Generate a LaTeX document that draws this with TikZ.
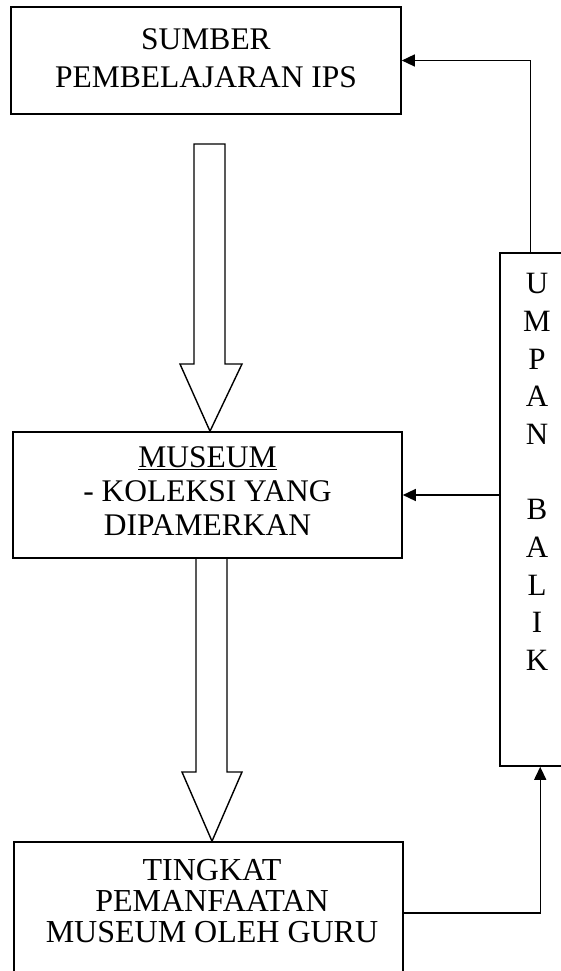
\documentclass[tikz,border=0pt]{standalone}
\usepackage{fontspec}
\setmainfont{Liberation Serif}
\usetikzlibrary{arrows.meta,calc}
\begin{document}
\begin{tikzpicture}[x=1pt,y=-1pt,
  box/.style={draw,line width=1.6pt,rectangle,inner sep=0pt},
  txt/.style={align=center,inner sep=0pt},
  fb/.style={line width=1.4pt,-{Triangle[length=13pt,width=12pt]}},
  hollow/.style={draw,line width=1.4pt,line join=miter}]
\useasboundingbox (0,0) rectangle (561,971);
\clip (0,0) rectangle (561,971);

% boxes
\node[box,minimum width=390pt,minimum height=107pt] (sumber) at (206,60.5) {};
\node[txt,font=\fontsize{31.5}{38}\selectfont] (sumbertxt) at (206,58) {SUMBER\\PEMBELAJARAN IPS};

\node[box,minimum width=389pt,minimum height=126pt] (museum) at (207.5,495) {};
\node[txt,font=\fontsize{31.5}{34}\selectfont] (museumtxt) at (207.5,491.5) {\underline{MUSEUM}\\- KOLEKSI YANG\\DIPAMERKAN};

\node[box,minimum width=389pt,minimum height=160pt] (guru) at (208.5,922) {};
\node[txt,font=\fontsize{32}{31}\selectfont] (gurutxt) at (212,901) {TINGKAT\\PEMANFAATAN\\MUSEUM OLEH GURU};

\node[box,minimum width=74pt,minimum height=513pt] (umpan) at (537,509.5) {};
\node[txt,font=\fontsize{31}{37.7}\selectfont] (umpantxt) at (537,472) {U\\M\\P\\A\\N\\[37.7pt]B\\A\\L\\I\\K};

% hollow arrows
\coordinate (tip1) at ($(museum.north)+(2.5,0)$);
\coordinate (tip2) at ($(guru.north)+(3.5,0)$);
\draw[hollow] (194,144) -- (225,144) -- (225,364) -- (242,364) -- (tip1) -- (180,364) -- (194,364) -- cycle;
\draw[hollow] (196,558) -- (196,772) -- (182,772) -- (tip2) -- (242,772) -- (227,772) -- (227,558);

% feedback connectors
\coordinate (utop) at ($(umpan.north west)+(31,0)$);
\draw[fb] (utop) |- (sumber.east);
\draw[fb] (umpan.west |- museum.east) -- (museum.east);
\coordinate (gout) at ($(guru.east)+(0,-9)$);
\coordinate (ubot) at ($(umpan.south west)+(41,0)$);
\draw[fb] (gout) -| (ubot);
\end{tikzpicture}
\end{document}
